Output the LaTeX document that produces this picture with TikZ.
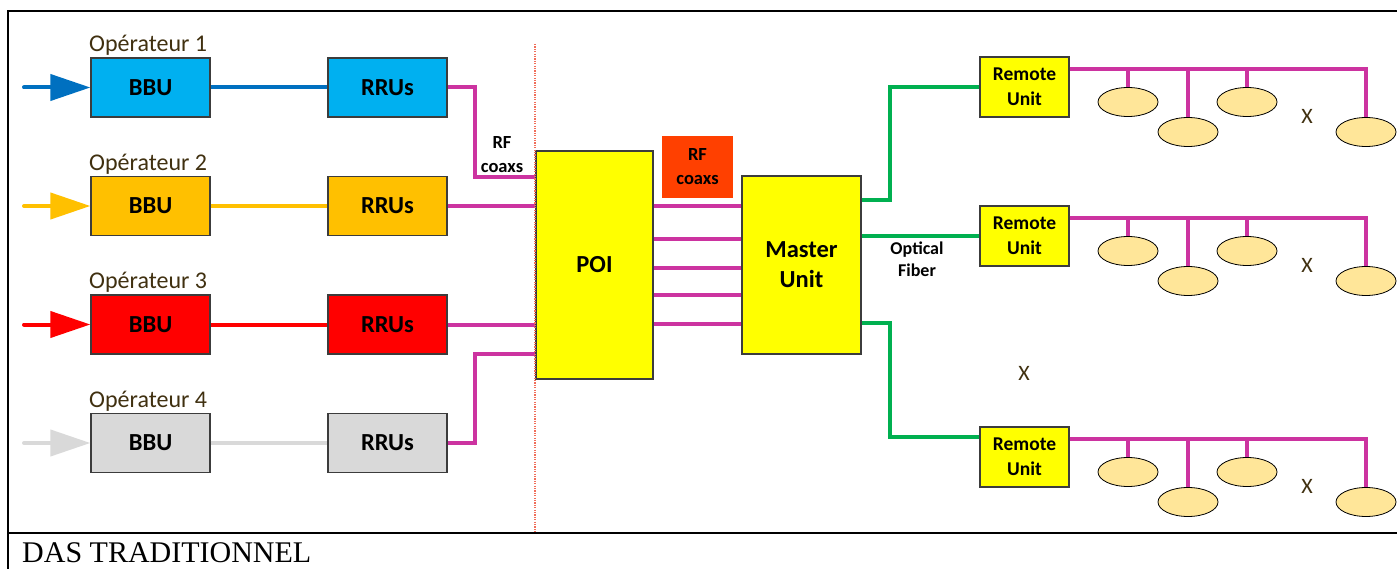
\documentclass[tikz,border=0pt]{standalone}
\usepackage{fontspec}
\newfontfamily\calib{Carlito}
\newfontfamily\titlefont{Liberation Serif}
\usetikzlibrary{shapes.geometric,arrows.meta}
\definecolor{c1fill}{RGB}{0,176,240}
\definecolor{c1line}{RGB}{0,112,192}
\definecolor{c2}{RGB}{255,192,0}
\definecolor{c3}{RGB}{255,0,0}
\definecolor{c4}{RGB}{217,217,217}
\definecolor{mag}{RGB}{204,51,160}
\definecolor{grn}{RGB}{0,176,80}
\definecolor{yel}{RGB}{255,255,0}
\definecolor{orng}{RGB}{255,64,0}
\definecolor{antfill}{RGB}{255,230,153}
\definecolor{brd}{RGB}{60,60,60}
\definecolor{txtbrown}{RGB}{64,48,16}
\definecolor{dotred}{RGB}{240,110,90}
\begin{document}
\begin{tikzpicture}[x=1pt,y=-1pt,
  unit/.style={draw=brd, line width=1.2pt, inner sep=0pt, align=center, font=\calib\bfseries\fontsize{24.5}{30}\selectfont},
  opbox/.style={unit, minimum width=119pt, minimum height=59pt},
  rubox/.style={unit, fill=yel, minimum width=89pt, minimum height=60pt, font=\calib\bfseries\fontsize{19.5}{25}\selectfont},
  ant/.style={ellipse, draw=black, line width=0.8pt, fill=antfill, minimum width=60pt, minimum height=29pt, inner sep=0pt},
  coax/.style={draw=mag, line width=4pt},
  fiber/.style={draw=grn, line width=4pt},
  oplabel/.style={anchor=base west, inner sep=0pt, text=txtbrown, font=\calib\fontsize{24}{28}\selectfont},
  small/.style={font=\calib\bfseries\fontsize{18.5}{24}\selectfont, align=center, inner sep=0pt},
  xmark/.style={font=\calib\fontsize{22}{26}\selectfont, text=txtbrown, inner sep=0pt},
  feed/.style={line width=4pt, line cap=round, -{Triangle[length=40pt,width=26pt]}}
]
\useasboundingbox (0,0) rectangle (1397,569);
% frame
\coordinate (fbl) at (8,569);
\coordinate (ftl) at (8,11);
\coordinate (ftr) at (1397,11);
\coordinate (fml) at (8,533);
\coordinate (fmr) at (1397,533);
\draw[line width=2pt] (fbl) -- (ftl) -- (ftr);
\draw[line width=2pt] (fml) -- (fmr);
\node[anchor=base west, inner sep=0pt, font=\titlefont\fontsize{30}{32}\selectfont] (title) at (22,562) {DAS TRADITIONNEL};

% operator rows
\foreach \r/\y/\fc/\lc in {1/87.5/c1fill/c1line, 2/206/c2/c2, 3/324.5/c3/c3, 4/443/c4/c4}{
  \node[opbox, fill=\fc] (bbu\r) at (150.5,\y) {BBU};
  \node[opbox, fill=\fc] (rru\r) at (387.5,\y) {RRUs};
  \node[oplabel] (op\r) at (89,\y-35.5) {Opérateur \r};
  \coordinate (in\r) at (24,\y);
  \draw[feed, draw=\lc, color=\lc] (in\r) -- (bbu\r.west);
  \draw[line width=4pt, draw=\lc] (bbu\r.east) -- (rru\r.west);
}

% POI and master
\node[unit, fill=yel, minimum width=117pt, minimum height=228pt] (poi) at (594.5,265) {POI};
\node[unit, fill=yel, minimum width=119pt, minimum height=178pt] (master) at (801.5,265) {Master\\Unit};
\node[small, fill=orng, minimum width=71pt, minimum height=62pt] (rfbox) at (697.5,167) {RF\\coaxs};
\node[small] (rflab) at (502,155) {RF\\coaxs};

% RRU to POI
\coordinate (k1) at (475,177);
\coordinate (k4) at (475,354);
\draw[coax] (rru1.east) -| (k1) -- (k1 -| poi.west);
\draw[coax] (rru2.east) -- (rru2.east -| poi.west);
\draw[coax] (rru3.east) -- (rru3.east -| poi.west);
\draw[coax] (rru4.east) -| (k4) -- (k4 -| poi.west);

% POI to master
\foreach \i/\yy in {1/206,2/239,3/268,4/295,5/324}{
  \coordinate (pm\i) at (700,\yy);
  \draw[coax] (poi.east |- pm\i) -- (master.west |- pm\i);
}

% dotted separator
\coordinate (dtop) at (535,44);
\coordinate (dbot) at (535,533);
\draw[dotred, line width=1.3pt, dash pattern=on 1.2pt off 1.2pt] (dtop) -- (dbot);

% remote units
\node[rubox] (ru1) at (1024.5,87) {Remote\\Unit};
\node[rubox] (ru2) at (1024.5,236) {Remote\\Unit};
\node[rubox] (ru3) at (1024.5,457) {Remote\\Unit};

% fibers
\coordinate (g1) at (890,200);
\draw[fiber] (master.east |- g1) -- (g1) |- (ru1.west);
\draw[fiber] (master.east |- ru2.west) -- (ru2.west);
\coordinate (g3) at (890,323);
\coordinate (g3b) at (890,437);
\draw[fiber] (master.east |- g3) -- (g3) -- (g3b) -- (g3b -| ru3.west);
\node[small, font=\calib\bfseries\fontsize{18}{22}\selectfont] (oflab) at (917,259.5) {Optical\\Fiber};

% antennas
\foreach \k/\T in {1/57,2/206,3/427}{
  \node[ant] (a\k a) at (1128,\T+45) {};
  \node[ant] (a\k b) at (1188,\T+75) {};
  \node[ant] (a\k c) at (1247,\T+45) {};
  \node[ant] (a\k d) at (1366,\T+75) {};
  \coordinate (bus\k) at (1200,\T+12);
  \draw[coax] (ru\k.east |- bus\k) -- (a\k d.north |- bus\k) -- (a\k d.north);
  \draw[coax] (a\k a.north |- bus\k) -- (a\k a.north);
  \draw[coax] (a\k b.north |- bus\k) -- (a\k b.north);
  \draw[coax] (a\k c.north |- bus\k) -- (a\k c.north);
  \node[xmark] (x\k) at (1307,\T+59) {X};
}
\node[xmark] (xmid) at (1024,373) {X};
\end{tikzpicture}
\end{document}
